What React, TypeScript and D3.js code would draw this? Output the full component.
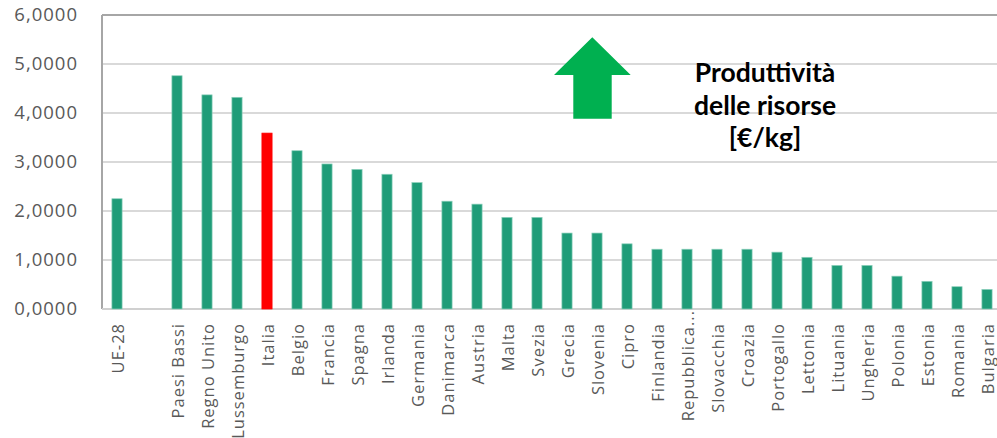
import React from "react";
import * as d3 from "d3";

const categories = ["UE-28", "", "Paesi Bassi", "Regno Unito", "Lussemburgo", "Italia", "Belgio", "Francia", "Spagna", "Irlanda", "Germania", "Danimarca", "Austria", "Malta", "Svezia", "Grecia", "Slovenia", "Cipro", "Finlandia", "Repubblica...", "Slovacchia", "Croazia", "Portogallo", "Lettonia", "Lituania", "Ungheria", "Polonia", "Estonia", "Romania", "Bulgaria"];
const values: (number | null)[] = [2.25, null, 4.76, 4.37, 4.32, 3.59, 3.23, 2.96, 2.85, 2.75, 2.58, 2.20, 2.14, 1.87, 1.87, 1.55, 1.55, 1.33, 1.22, 1.22, 1.22, 1.22, 1.16, 1.055, 0.89, 0.89, 0.67, 0.565, 0.455, 0.40];
const highlight = ["Italia"];
const yTicks = [0, 1, 2, 3, 4, 5, 6];
const titleLines = ["Produttività", "delle risorse", "[€/kg]"];

const W = 997, H = 438;
const left = 102, right = 1002, top = 15, bottom = 309;

export default function App() {
  const x = d3.scaleBand<number>().domain(categories.map((_, i) => i)).range([left, right]).paddingInner(0.66).paddingOuter(0.33);
  const y = d3.scaleLinear().domain([0, 6]).range([bottom, top]);
  const fmt = (v: number) => d3.format(".4f")(v).replace(".", ",");
  const bw = x.bandwidth();

  return (
    <svg width={W} height={H} style={{ position: "absolute", left: 0, top: 0, background: "#fff" }}>
      {yTicks.filter(t => t > 0 && t < 6).map(t => (
        <line key={"g" + t} x1={left} x2={W} y1={y(t)} y2={y(t)} stroke="#D9D9D9" strokeWidth={2} />
      ))}
      <line x1={left} x2={W} y1={top} y2={top} stroke="#A6A6A6" strokeWidth={2} />
      <line x1={left} x2={left} y1={top} y2={bottom} stroke="#A6A6A6" strokeWidth={2} />
      <line x1={left} x2={W} y1={bottom} y2={bottom} stroke="#D0D0D0" strokeWidth={2} />
      {yTicks.map(t => (
        <text key={"t" + t} x={78} y={y(t)} dy="0.35em" textAnchor="end" fontFamily="Open Sans" fontSize={18.5} letterSpacing={1} fill="#595959">{fmt(t)}</text>
      ))}
      {categories.map((c, i) => {
        const v = values[i];
        if (v == null) return null;
        const xc = (x(i) as number);
        return (
          <rect key={"b" + i} x={xc} y={y(v)} width={bw} height={bottom - y(v)}
            fill={highlight.includes(c) ? "#FF0000" : "#1F9C78"}
            stroke={highlight.includes(c) ? "#FF0000" : "#8ED0BC"} strokeWidth={0.7} />
        );
      })}
      {categories.map((c, i) => {
        if (!c) return null;
        const xc = (x(i) as number) + bw / 2 + 1;
        const y0 = c.endsWith("...") ? 310 : 323;
        return (
          <text key={"l" + i} transform={`translate(${xc},${y0}) rotate(-90)`} textAnchor="end" dy="0.35em"
            fontFamily="Open Sans" fontSize={16.5} letterSpacing={1} fill="#595959">{c}</text>
        );
      })}
      <path d="M592.3,37.3 L630.7,75 L611.7,75 L611.7,118.7 L573.3,118.7 L573.3,75 L554,75 Z" fill="#00B050" />
      {titleLines.map((l, i) => (
        <text key={"h" + i} x={765} y={82 + i * 32.5} textAnchor="middle" fontFamily="Lato" fontWeight="bold" fontSize={26.5} fill="#000">{l}</text>
      ))}
    </svg>
  );
}
